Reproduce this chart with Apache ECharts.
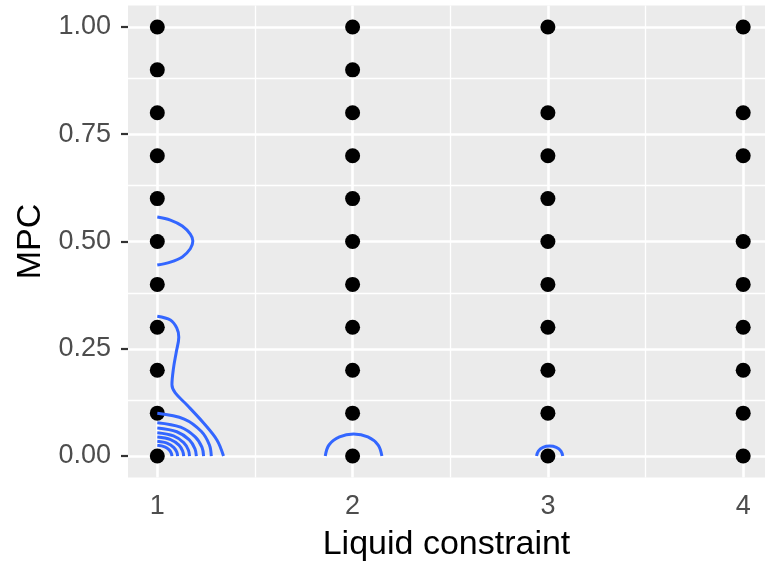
<!DOCTYPE HTML>
<html lang="en">
<head>
<meta charset="utf-8">
<title>MPC by liquid constraint</title>
<style>
html, body {
  margin: 0;
  background: #FFFFFF;
}
#chart {
  width: 765px;
  height: 567px;
}
</style>
</head>
<body>
<div id="chart"></div>
<script src="https://cdn.jsdelivr.net/npm/echarts@6/dist/echarts.min.js"></script>
<script>
// observed points: MPC values present at each liquid constraint level
var constraintLevels = [1, 2, 3, 4];
var mpcAt1 = [0, 0.1, 0.2, 0.3, 0.4, 0.5, 0.6, 0.7, 0.8, 0.9, 1];
var mpcAt2 = [0, 0.1, 0.2, 0.3, 0.4, 0.5, 0.6, 0.7, 0.8, 0.9, 1];
var mpcAt3 = [0, 0.1, 0.2, 0.3, 0.4, 0.5, 0.6, 0.7, 0.8, 1];
var mpcAt4 = [0, 0.1, 0.2, 0.3, 0.4, 0.5, 0.7, 0.8, 1];

// density contours as [constraint, mpc]
var contourMid = [[1, 0.557], [1.067, 0.550], [1.128, 0.536], [1.169, 0.517], [1.182, 0.501],
  [1.169, 0.483], [1.128, 0.464], [1.067, 0.452], [1, 0.445]];
var contourS = [[1, 0.326], [1.067, 0.317], [1.100, 0.298], [1.110, 0.277], [1.097, 0.242],
  [1.083, 0.205], [1.075, 0.166], [1.092, 0.147], [1.152, 0.119], [1.237, 0.077],
  [1.306, 0.037], [1.339, 0]];
var arc1 = [[1, 0.0995], [1.138, 0.0862], [1.226, 0.0571], [1.267, 0.0258], [1.2765, 0]];
var arc2 = [[1, 0.0776], [1.119, 0.0672], [1.194, 0.0445], [1.229, 0.0201], [1.237, 0]];
var arc3 = [[1, 0.0653], [1.100, 0.0566], [1.164, 0.0375], [1.193, 0.0169], [1.200, 0]];
var arc4 = [[1, 0.0543], [1.083, 0.0470], [1.135, 0.0312], [1.159, 0.0141], [1.165, 0]];
var arc5 = [[1, 0.0443], [1.068, 0.0384], [1.111, 0.0254], [1.130, 0.0115], [1.135, 0]];
var arc6 = [[1, 0.0343], [1.052, 0.0297], [1.085, 0.0197], [1.100, 0.0089], [1.104, 0]];
var arc7 = [[1, 0.0249], [1.038, 0.0216], [1.061, 0.0143], [1.072, 0.0064], [1.075, 0]];
var hump2 = [[1.860, 0], [1.879, 0.0257], [1.933, 0.0444], [2.005, 0.0513], [2.078, 0.0444],
  [2.131, 0.0257], [2.150, 0]];
var hump3 = [[2.942, 0], [2.951, 0.0117], [2.975, 0.0202], [3.009, 0.0233], [3.043, 0.0202],
  [3.067, 0.0117], [3.076, 0]];

var xTicks = [1, 2, 3, 4];
var xMinor = [1.5, 2.5, 3.5];
var yTicks = [0, 0.25, 0.5, 0.75, 1];
var yMinor = [0.125, 0.375, 0.625, 0.875];

var font = '"Liberation Sans", Arial, Helvetica, sans-serif';

var points = [];
[mpcAt1, mpcAt2, mpcAt3, mpcAt4].forEach(function (vals, i) {
  vals.forEach(function (v) { points.push([constraintLevels[i], v]); });
});

var gridLines = [];
xMinor.forEach(function (v) { gridLines.push({ xAxis: v, lineStyle: { width: 1.3 } }); });
yMinor.forEach(function (v) { gridLines.push({ yAxis: v, lineStyle: { width: 1.3 } }); });
xTicks.forEach(function (v) { gridLines.push({ xAxis: v, lineStyle: { width: 2.6 } }); });
yTicks.forEach(function (v) { gridLines.push({ yAxis: v, lineStyle: { width: 2.6 } }); });

var contours = [contourMid, contourS, arc1, arc2, arc3, arc4, arc5, arc6, arc7, hump2, hump3];

// panel gridlines live on an empty series, kept on the bottom layer
var series = [{
  type: 'line',
  data: [],
  z: 1,
  silent: true,
  markLine: {
    silent: true,
    animation: false,
    symbol: ['none', 'none'],
    label: { show: false },
    lineStyle: { color: '#FFFFFF', type: 'solid' },
    data: gridLines
  }
}, {
  type: 'scatter',
  data: points,
  zlevel: 1,
  z: 3,
  symbolSize: 15,
  itemStyle: { color: '#000000', opacity: 1 }
}];
contours.forEach(function (c) {
  series.push({
    type: 'line',
    data: c,
    zlevel: 1,
    z: 4,
    smooth: 0.35,
    showSymbol: false,
    lineStyle: { color: '#3366FF', width: 3 }
  });
});

var chart = echarts.init(document.getElementById('chart'));
chart.setOption({
  animation: false,
  grid: {
    left: 128,
    top: 5.5,
    width: 637,
    height: 472,
    show: true,
    backgroundColor: '#EBEBEB',
    borderWidth: 0
  },
  xAxis: {
    type: 'value',
    min: 0.85,
    max: 4.1116,
    name: 'Liquid constraint',
    nameLocation: 'middle',
    nameGap: 50,
    nameTextStyle: { fontFamily: font, fontSize: 34, color: '#000000' },
    axisLine: { show: false },
    splitLine: { show: false },
    axisTick: {
      show: true, length: 7, customValues: xTicks,
      lineStyle: { color: '#333333', width: 2.2 }
    },
    axisLabel: {
      customValues: xTicks, margin: 16,
      fontFamily: font, fontSize: 27, color: '#4D4D4D'
    }
  },
  yAxis: {
    type: 'value',
    min: -0.05,
    max: 1.05,
    name: 'MPC',
    nameLocation: 'middle',
    nameGap: 80,
    nameRotate: 90,
    nameTextStyle: { fontFamily: font, fontSize: 34, color: '#000000' },
    axisLine: { show: false },
    splitLine: { show: false },
    axisTick: {
      show: true, length: 7, customValues: yTicks,
      lineStyle: { color: '#333333', width: 2.2 }
    },
    axisLabel: {
      customValues: yTicks, margin: 17,
      fontFamily: font, fontSize: 27, color: '#4D4D4D',
      formatter: function (v) { return v.toFixed(2); }
    }
  },
  series: series
});
</script>
</body>
</html>
